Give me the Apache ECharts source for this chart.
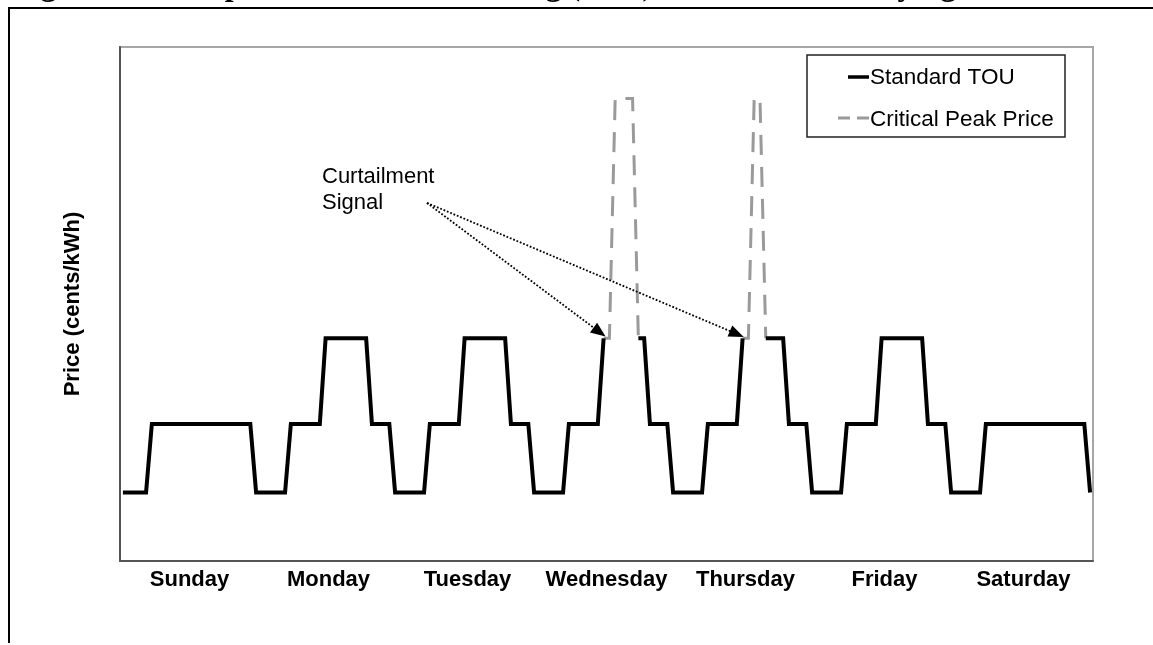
<!DOCTYPE html>
<html><head><meta charset="utf-8">
<script src="https://cdn.jsdelivr.net/npm/echarts@6/dist/echarts.min.js"></script>
<style>html,body{margin:0;padding:0;background:#fff}#c{width:1153px;height:645px}</style>
</head><body><div id="c"></div>
<script>
// Day labels (category axis)
const days = ['Sunday','Monday','Tuesday','Wednesday','Thursday','Friday','Saturday'];
// Hourly Standard TOU price (hour 0..23 of each day); null = replaced by critical peak
const touSunday    = [4,4,4,4,4,8,8,8,8,8,8,8,8,8,8,8,8,8,8,8,8,8,8,4];
const touMonday    = [4,4,4,4,4,8,8,8,8,8,8,13,13,13,13,13,13,13,13,8,8,8,8,4];
const touTuesday   = [4,4,4,4,4,8,8,8,8,8,8,13,13,13,13,13,13,13,13,8,8,8,8,4];
const touWednesday = [4,4,4,4,4,8,8,8,8,8,8,13,null,null,null,null,null,13,13,8,8,8,8,4];
const touThursday  = [4,4,4,4,4,8,8,8,8,8,8,13,null,null,null,13,13,13,13,8,8,8,8,4];
const touFriday    = [4,4,4,4,4,8,8,8,8,8,8,13,13,13,13,13,13,13,13,8,8,8,8,4];
const touSaturday  = [4,4,4,4,4,8,8,8,8,8,8,8,8,8,8,8,8,8,8,8,8,8,8,4];
// Hourly Critical Peak Price on event days
const cppWednesday = [null,null,null,null,null,null,null,null,null,null,null,13,13,27,27,27,27,13,null,null,null,null,null,null];
const cppThursday  = [null,null,null,null,null,null,null,null,null,null,null,13,13,27,27,13,null,null,null,null,null,null,null,null];
const noEvent = new Array(24).fill(null);

const tou = [].concat(touSunday, touMonday, touTuesday, touWednesday, touThursday, touFriday, touSaturday);
const cpp = [].concat(noEvent, noEvent, noEvent, cppWednesday, cppThursday, noEvent, noEvent);
const toPairs = arr => arr.map((v, i) => [i + 0.5, v]);

const FONT = '"Liberation Sans", Arial, sans-serif';
const chart = echarts.init(document.getElementById('c'));
chart.setOption({
  animation: false,
  backgroundColor: '#fff',
  grid: { left: 120, top: 47, right: 60, bottom: 84, show: true, borderColor: '#a6a6a6', borderWidth: 2 },
  xAxis: [
    { type: 'category', data: days, boundaryGap: true, position: 'bottom',
      axisLine: { show: true, lineStyle: { color: '#555', width: 2 } },
      axisTick: { show: false }, splitLine: { show: false },
      axisLabel: { interval: 0, color: '#000', fontFamily: FONT, fontSize: 22, fontWeight: 'bold', margin: 8 } },
    { type: 'value', min: 0, max: 168, show: false }
  ],
  yAxis: { type: 'value', min: 0, max: 30,
    name: 'Price (cents/kWh)', nameLocation: 'middle', nameRotate: 90, nameGap: 36,
    nameTextStyle: { color: '#000', fontFamily: FONT, fontSize: 22, fontWeight: 'bold' },
    axisLine: { show: true, lineStyle: { color: '#555', width: 2 } },
    axisTick: { show: false }, axisLabel: { show: false }, splitLine: { show: false } },
  legend: {
    orient: 'vertical', left: 835, top: 66, itemGap: 19, itemWidth: 30, itemHeight: 14, padding: 0,
    textStyle: { color: '#000', fontFamily: FONT, fontSize: 22.5 },
    data: [
      { name: 'Standard TOU', icon: 'none' },
      { name: 'Critical Peak Price', icon: 'none' }
    ]
  },
  series: [
    { name: 'Standard TOU', type: 'line', xAxisIndex: 1, data: toPairs(tou), symbol: 'none', connectNulls: false,
      lineStyle: { color: '#000', width: 4, join: 'miter' }, itemStyle: { color: '#000' }, z: 3,
      markLine: {
        silent: true, symbol: ['none', 'triangle'], symbolSize: [12, 15], label: { show: false },
        lineStyle: { color: '#000', width: 1.8, type: [1.8, 1.8] },
        data: [
          [{ coord: [53.0, 20.9] }, { coord: [82.8, 13.36] }],
          [{ coord: [53.0, 20.9] }, { coord: [106.5, 13.25] }]
        ]
      } },
    { name: 'Critical Peak Price', type: 'line', xAxisIndex: 1, data: toPairs(cpp), symbol: 'none', connectNulls: false,
      lineStyle: { color: '#9a9a9a', width: 3, type: [20, 12], join: 'miter' }, itemStyle: { color: '#9a9a9a' }, z: 2 }
  ],
  graphic: [
    { type: 'polyline', shape: { points: [[9, 643], [9, 8], [1153, 8]] }, style: { stroke: '#000', lineWidth: 2, fill: null } },
    { type: 'text', left: 12, top: -29, style: { text: 'Figure 1: Example Critical Peak Pricing (CPP) Rate with Underlying TOU Rate',
      font: 'bold 32px "Liberation Serif", "Times New Roman", serif', fill: '#000' } },
    { type: 'rect', shape: { x: 807, y: 55, width: 258, height: 82 }, style: { fill: '#fff', stroke: '#222', lineWidth: 1.5 }, z: 1 },
    // legend key samples
    { type: 'line', shape: { x1: 848, y1: 77, x2: 869, y2: 77 }, style: { stroke: '#000', lineWidth: 3.5 }, z: 5 },
    { type: 'line', shape: { x1: 838, y1: 118, x2: 869, y2: 118 }, style: { stroke: '#9a9a9a', lineWidth: 3, lineDash: [12, 7] }, z: 5 },
    { type: 'text', left: 322, top: 164, style: { text: 'Curtailment\nSignal', font: '22px ' + FONT, fill: '#000', lineHeight: 26 } }
  ]
});
</script></body></html>
